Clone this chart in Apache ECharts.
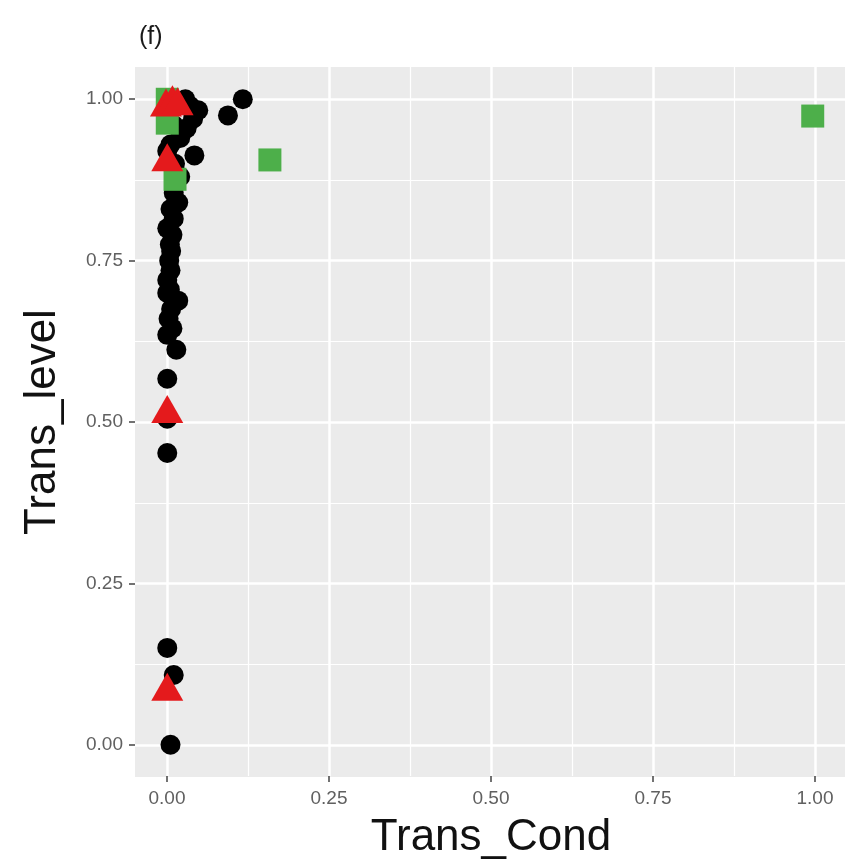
<!DOCTYPE html>
<html>
<head>
<meta charset="utf-8">
<script src="https://cdn.jsdelivr.net/npm/echarts@6/dist/echarts.min.js"></script>
<style>html,body{margin:0;padding:0;background:#fff;}#c{width:845px;height:865px;}</style>
</head>
<body>
<div id="c"></div>
<script>
// Data: [Trans_Cond, Trans_level]
var blackCircles = [
  [0.117, 1.0], [0.094, 0.975], [0.048, 0.983], [0.028, 1.0], [0.035, 0.99], [0.04, 0.97],
  [0.03, 0.955], [0.042, 0.913], [0.02, 0.94], [0.01, 0.96], [0.005, 0.93], [0.0, 0.92],
  [0.012, 0.90], [0.02, 0.88], [0.017, 0.84], [0.01, 0.855], [0.005, 0.83], [0.01, 0.815],
  [0.0, 0.80], [0.008, 0.79], [0.004, 0.775], [0.006, 0.765], [0.003, 0.75], [0.005, 0.735],
  [0.0, 0.72], [0.004, 0.705], [0.0, 0.70], [0.017, 0.688], [0.006, 0.675], [0.002, 0.66],
  [0.008, 0.645], [0.0, 0.635], [0.014, 0.612], [0.0, 0.567], [0.0, 0.505], [0.0, 0.452],
  [0.0, 0.15], [0.01, 0.108], [0.005, 0.0]
];
var greenSquares = [[0.0, 1.0], [0.0, 0.963], [0.012, 0.876], [0.159, 0.906], [1.0, 0.974]];
var redTriangles = [[-0.002, 0.995], [0.008, 1.0], [0.016, 0.997], [0.0, 0.91], [0.0, 0.52], [0.0, 0.09]];
var xTicks = [0, 0.25, 0.5, 0.75, 1.0];
var yTicks = [0, 0.25, 0.5, 0.75, 1.0];
var title = '(f)';
var xName = 'Trans_Cond';
var yName = 'Trans_level';

var FONT = 'Liberation Sans';
var chart = echarts.init(document.getElementById('c'), null, {renderer: 'canvas'});
var fmt = function (v) { return v.toFixed(2); };
var hiddenLine = {show: true, onZero: false, lineStyle: {color: 'rgba(0,0,0,0)', width: 0}};
var option = {
  animation: false,
  backgroundColor: '#ffffff',
  title: {text: title, left: 134, top: 20, textStyle: {fontFamily: FONT, fontSize: 25, fontWeight: 'normal', color: '#1a1a1a'}},
  grid: [
    {left: 135, right: -2, top: 67, bottom: 88, show: true, backgroundColor: '#EBEBEB', borderWidth: 0, z: 0},
    {left: 167, right: 30, top: 67, bottom: 88, show: false},
    {left: 135, right: -2, top: 99, bottom: 120, show: false}
  ],
  xAxis: [
    {gridIndex: 0, type: 'value', min: -0.05, max: 1.05, show: false},
    {gridIndex: 1, type: 'value', min: xTicks[0], max: xTicks[xTicks.length - 1], interval: 0.25,
      axisLine: hiddenLine,
      axisTick: {show: true, length: 6, lineStyle: {color: '#444', width: 1.5}},
      axisLabel: {margin: 13, fontFamily: FONT, fontSize: 19, color: '#606060', formatter: fmt},
      splitLine: {show: true, lineStyle: {color: '#ffffff', width: 2.5}},
      minorTick: {show: false, splitNumber: 2},
      minorSplitLine: {show: true, lineStyle: {color: '#ffffff', width: 1.2}},
      name: xName, nameLocation: 'middle', nameGap: 40,
      nameTextStyle: {fontFamily: FONT, fontSize: 44, color: '#111'}
    },
    {gridIndex: 2, type: 'value', min: -0.05, max: 1.05, show: false}
  ],
  yAxis: [
    {gridIndex: 0, type: 'value', min: -0.05, max: 1.05, show: false},
    {gridIndex: 1, type: 'value', min: 0, max: 1, show: false},
    {gridIndex: 2, type: 'value', min: yTicks[0], max: yTicks[yTicks.length - 1], interval: 0.25,
      axisLine: hiddenLine,
      axisTick: {show: true, length: 6, lineStyle: {color: '#444', width: 1.5}},
      axisLabel: {margin: 12, fontFamily: FONT, fontSize: 19, color: '#606060', formatter: fmt},
      splitLine: {show: true, lineStyle: {color: '#ffffff', width: 2.5}},
      minorTick: {show: false, splitNumber: 2},
      minorSplitLine: {show: true, lineStyle: {color: '#ffffff', width: 1.2}},
      name: yName, nameLocation: 'middle', nameGap: 70, nameRotate: 90,
      nameTextStyle: {fontFamily: FONT, fontSize: 44, color: '#111'}
    }
  ],
  series: [
    {type: 'scatter', xAxisIndex: 0, yAxisIndex: 0, data: blackCircles, symbol: 'circle', symbolSize: 20,
      itemStyle: {color: '#000000', opacity: 1}, z: 3},
    {type: 'scatter', xAxisIndex: 0, yAxisIndex: 0, data: greenSquares, symbol: 'rect', symbolSize: 23,
      itemStyle: {color: '#4DAF4A', opacity: 1}, z: 4},
    {type: 'scatter', xAxisIndex: 0, yAxisIndex: 0, data: redTriangles, symbol: 'triangle', symbolSize: [32, 28],
      itemStyle: {color: '#E41A1C', opacity: 1}, z: 5}
  ]
};
chart.setOption(option);
</script>
</body>
</html>
